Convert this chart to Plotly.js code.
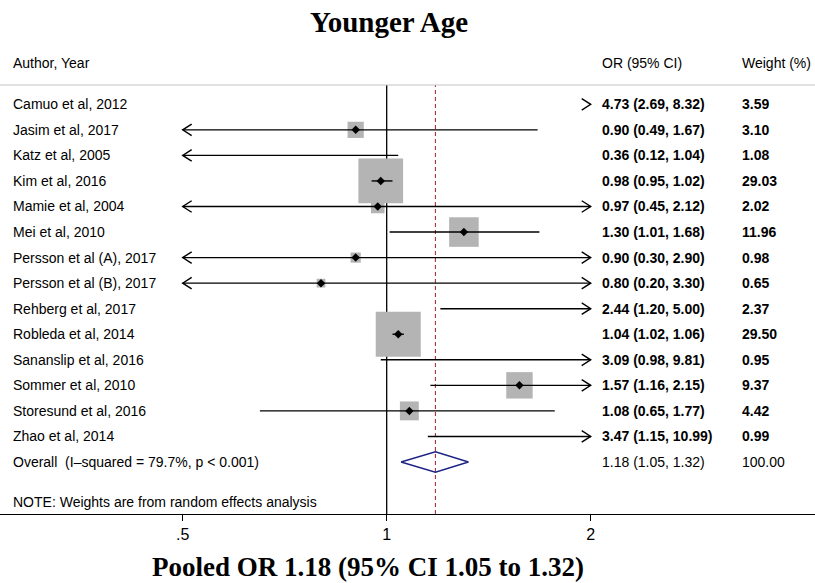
<!DOCTYPE html>
<html>
<head>
<meta charset="utf-8">
<script src="https://cdn.plot.ly/plotly-3.0.1.min.js"></script>
<style>
  html, body { margin: 0; padding: 0; background: #ffffff; }
  #forest { width: 815px; height: 583px; }
</style>
</head>
<body>
<div id="forest"></div>
<script>
// Study-level odds ratios (younger age) with 95% CI and random-effects weights
const authors = [
  'Camuo et al, 2012', 'Jasim et al, 2017', 'Katz et al, 2005', 'Kim et al, 2016',
  'Mamie et al, 2004', 'Mei et al, 2010', 'Persson et al (A), 2017', 'Persson et al (B), 2017',
  'Rehberg et al, 2017', 'Robleda et al, 2014', 'Sananslip et al, 2016', 'Sommer et al, 2010',
  'Storesund et al, 2016', 'Zhao et al, 2014'
];
const oddsRatio = [4.73, 0.90, 0.36, 0.98, 0.97, 1.30, 0.90, 0.80, 2.44, 1.04, 3.09, 1.57, 1.08, 3.47];
const ciLower   = [2.69, 0.49, 0.12, 0.95, 0.45, 1.01, 0.30, 0.20, 1.20, 1.02, 0.98, 1.16, 0.65, 1.15];
const ciUpper   = [8.32, 1.67, 1.04, 1.02, 2.12, 1.68, 2.90, 3.30, 5.00, 1.06, 9.81, 2.15, 1.77, 10.99];
const weights   = [3.59, 3.10, 1.08, 29.03, 2.02, 11.96, 0.98, 0.65, 2.37, 29.50, 0.95, 9.37, 4.42, 0.99];

// Pooled random-effects estimate
const pooledOR = 1.18;
const pooledLower = 1.05;
const pooledUpper = 1.32;
const pooledWeight = 100;
const overallLabel = 'Overall\u00a0\u00a0(I\u2013squared = 79.7%, p &lt; 0.001)';
const noteLabel = 'NOTE: Weights are from random effects analysis';
const headers = ['Author, Year', 'OR (95% CI)', 'Weight (%)'];

// Axis ticks and the displayed CI window
const tickValues = [0.5, 1, 2];
const tickLabels = ['.5', '1', '2'];
const clipMin = 0.5;
const clipMax = 2;

const SANS = 'Liberation Sans, Arial, sans-serif';
const SERIF = 'Liberation Serif, Times New Roman, serif';
const BOX_GREY = '#b4b4b4';
const NAVY = '#1c2384';
const DASH_RED = '#a3363d';

const nStudies = authors.length;
const overallRow = nStudies;
const noteRow = nStudies + 1.55;

// CI segments, clipped to the window
const ciX = [], ciY = [];
// Chevrons where an interval runs past the window
const chevX = [], chevY = [];
const ARM = 1.031;       // chevron arm length as a ratio on the log axis
const ARM_H = 0.225;     // chevron half-height in rows
// Point estimates and weight boxes inside the window
const ptX = [], ptY = [], boxSize = [];

for (let i = 0; i < nStudies; i++) {
  const lo = Math.max(ciLower[i], clipMin);
  const hi = Math.min(ciUpper[i], clipMax);
  if (lo < hi) {
    ciX.push(lo, hi, null);
    ciY.push(i, i, null);
  }
  if (ciLower[i] < clipMin) {
    chevX.push(clipMin * ARM, clipMin, clipMin * ARM, null);
    chevY.push(i - ARM_H, i, i + ARM_H, null);
  }
  if (ciUpper[i] > clipMax) {
    chevX.push(clipMax / ARM, clipMax, clipMax / ARM, null);
    chevY.push(i - ARM_H, i, i + ARM_H, null);
  }
  if (oddsRatio[i] >= clipMin && oddsRatio[i] <= clipMax) {
    ptX.push(oddsRatio[i]);
    ptY.push(i);
    // box side grows with the square root of the weight (area ~ weight)
    boxSize.push(2.4 + 7.85 * Math.sqrt(weights[i]));
  }
}

const shapes = [
  // line of no effect
  {
    type: 'line', xref: 'x', yref: 'paper', x0: 1, x1: 1, y0: 0, y1: 1,
    line: { color: '#000000', width: 1.3 }, layer: 'below'
  },
  // pooled estimate
  {
    type: 'line', xref: 'x', yref: 'paper', x0: pooledOR, x1: pooledOR, y0: 0, y1: 1,
    line: { color: DASH_RED, width: 1.1, dash: '4px,3px' }, layer: 'below'
  },
  // rule under the column headers
  {
    type: 'line', xref: 'paper', yref: 'paper', x0: 0, x1: 1, y0: 1, y1: 1,
    line: { color: '#c4c4c4', width: 1 }
  }
];

const traces = [
  {
    type: 'scatter', mode: 'markers', x: ptX, y: ptY,
    marker: { symbol: 'square', size: boxSize, color: BOX_GREY, opacity: 1, line: { width: 0 } },
    hoverinfo: 'skip', showlegend: false
  },
  {
    type: 'scatter', mode: 'lines', x: ciX, y: ciY,
    line: { color: '#000000', width: 1.4 }, hoverinfo: 'skip', showlegend: false
  },
  {
    type: 'scatter', mode: 'lines', x: chevX, y: chevY,
    line: { color: '#000000', width: 1.4 }, hoverinfo: 'skip', showlegend: false
  },
  {
    type: 'scatter', mode: 'markers', x: ptX, y: ptY,
    marker: { symbol: 'diamond', size: 6.5, color: '#000000', opacity: 1 },
    hoverinfo: 'skip', showlegend: false
  },
  {
    type: 'scatter', mode: 'lines',
    x: [pooledLower, pooledOR, pooledUpper, pooledOR, pooledLower],
    y: [overallRow, overallRow - 0.4, overallRow, overallRow + 0.4, overallRow],
    line: { color: NAVY, width: 1.4 }, hoverinfo: 'skip', showlegend: false
  }
];

// Text columns
const COL_NAME = 12 / 815;
const COL_OR = 601 / 815;
const COL_WT = 741 / 815;
const annotations = [];
function addText(text, x, y, weight, yref) {
  annotations.push({
    text: text, x: x, y: y, xref: 'paper', yref: yref || 'y',
    xanchor: 'left', yanchor: 'middle', showarrow: false, borderpad: 0,
    font: { family: SANS, size: 14, color: '#000000', weight: weight || 'normal' }
  });
}
const HEADER_Y = (514 - 63) / 429;
addText(headers[0], COL_NAME, HEADER_Y, 'normal', 'paper');
addText(headers[1], COL_OR, HEADER_Y, 'normal', 'paper');
addText(headers[2], COL_WT, HEADER_Y, 'normal', 'paper');
for (let i = 0; i < nStudies; i++) {
  addText(authors[i], COL_NAME, i);
  addText(oddsRatio[i].toFixed(2) + ' (' + ciLower[i].toFixed(2) + ', ' + ciUpper[i].toFixed(2) + ')',
          COL_OR, i, 'bold');
  addText(weights[i].toFixed(2), COL_WT, i, 'bold');
}
addText(overallLabel, COL_NAME, overallRow);
addText(pooledOR.toFixed(2) + ' (' + pooledLower.toFixed(2) + ', ' + pooledUpper.toFixed(2) + ')',
        COL_OR, overallRow);
addText(pooledWeight.toFixed(2), COL_WT, overallRow);
addText(noteLabel, COL_NAME, noteRow);

annotations.push({
  text: 'Pooled OR ' + pooledOR.toFixed(2) + ' (95% CI ' + pooledLower.toFixed(2) + ' to ' + pooledUpper.toFixed(2) + ')',
  xref: 'paper', yref: 'paper', x: 367.5 / 815, y: -0.1247,
  xanchor: 'center', yanchor: 'middle', showarrow: false,
  font: { family: SERIF, size: 27, color: '#000000', weight: 'bold' }
});

const layout = {
  width: 815, height: 583,
  margin: { l: 0, r: 0, t: 85, b: 69, pad: 0 },
  paper_bgcolor: '#ffffff', plot_bgcolor: '#ffffff',
  title: {
    text: 'Younger Age',
    font: { family: SERIF, size: 29, color: '#000000', weight: 'bold' },
    x: 389 / 815, xanchor: 'center', xref: 'paper',
    y: 1 - 22 / 583, yanchor: 'middle', yref: 'container'
  },
  xaxis: {
    type: 'log', range: [-0.5706, 0.6320],
    tickvals: tickValues, ticktext: tickLabels,
    ticks: 'outside', ticklen: 6, tickwidth: 1.2, tickcolor: '#000000',
    showline: true, linecolor: '#000000', linewidth: 1.2,
    showgrid: false, zeroline: false, fixedrange: true,
    tickfont: { family: SANS, size: 16, color: '#000000' }
  },
  yaxis: {
    range: [16.035, -0.755], visible: false, showgrid: false, zeroline: false, fixedrange: true
  },
  shapes: shapes,
  annotations: annotations,
  showlegend: false
};

Plotly.newPlot('forest', traces, layout, { displayModeBar: false, staticPlot: true });
</script>
</body>
</html>
